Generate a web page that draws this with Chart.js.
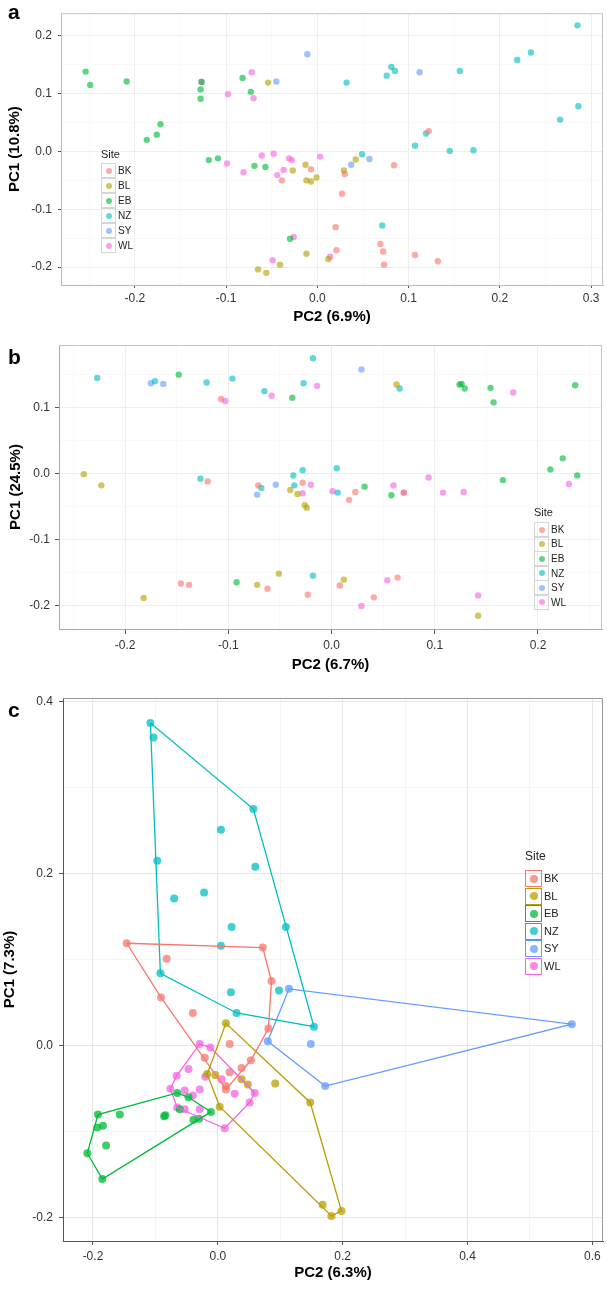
<!DOCTYPE html>
<html>
<head>
<meta charset="utf-8">
<script src="https://cdn.jsdelivr.net/npm/chart.js@4.4.0/dist/chart.umd.min.js"></script>
<style>
  body { margin: 0; background: #fff; font-family: "Liberation Sans", Arial, sans-serif; }
  #page { position: relative; width: 607px; height: 1292px; overflow: hidden; }
  canvas { position: absolute; left: 0; }
  .letter { position: absolute; left: 8px; font-size: 21px; font-weight: bold; line-height: 21px; }
  .legend { position: absolute; color: #222; }
  .legend .ttl { font-size: 11px; line-height: 12px; margin-bottom: 2px; }
  .legend .row { position: relative; }
  .legend .key { position: absolute; left: 0; top: 0; box-sizing: border-box; }
  .legend .dot { position: absolute; border-radius: 50%; }
  .legend .lab { position: absolute; white-space: nowrap; }
</style>
</head>
<body>
<div id="page">
  <canvas id="pa" width="607" height="330" style="top:0px"></canvas>
  <canvas id="pb" width="607" height="348" style="top:330px"></canvas>
  <canvas id="pc" width="607" height="608" style="top:678px"></canvas>
  <div class="letter" style="top:1px">a</div>
  <div class="letter" style="top:346px">b</div>
  <div class="letter" style="top:699px">c</div>
</div>
<script>
const sites = ['BK', 'BL', 'EB', 'NZ', 'SY', 'WL'];
const siteColors = ['248,118,109', '183,159,0', '0,186,56', '0,191,196', '97,156,255', '245,100,227'];

// panel a: [PC2, PC1]
const aBK = [[0.122,0.035],[-0.039,-0.050],[-0.007,-0.031],[0.030,-0.039],[0.084,-0.024],[0.027,-0.073],[0.020,-0.131],[0.069,-0.160],[0.072,-0.173],[0.073,-0.196],[0.107,-0.179],[0.132,-0.190],[0.021,-0.171]];
const aBL = [[-0.054,0.119],[-0.027,-0.033],[-0.013,-0.023],[-0.012,-0.050],[-0.007,-0.052],[-0.001,-0.045],[0.042,-0.014],[0.029,-0.033],[-0.012,-0.177],[-0.041,-0.196],[-0.065,-0.204],[-0.056,-0.210],[0.012,-0.186]];
const aEB = [[-0.254,0.138],[-0.249,0.115],[-0.209,0.121],[-0.127,0.120],[-0.128,0.107],[-0.128,0.091],[-0.082,0.127],[-0.073,0.103],[-0.172,0.047],[-0.176,0.029],[-0.187,0.020],[-0.119,-0.015],[-0.109,-0.012],[-0.069,-0.025],[-0.057,-0.027],[-0.030,-0.151]];
const aNZ = [[0.285,0.218],[0.234,0.171],[0.219,0.158],[0.081,0.146],[0.085,0.139],[0.076,0.131],[0.156,0.139],[0.032,0.119],[0.286,0.078],[0.266,0.055],[0.119,0.031],[0.107,0.010],[0.145,0.001],[0.171,0.002],[0.049,-0.005],[0.071,-0.128]];
const aSY = [[-0.045,0.121],[-0.011,0.168],[0.112,0.137],[0.057,-0.013],[0.037,-0.023]];
const aWL = [[-0.127,0.120],[-0.098,0.099],[-0.072,0.137],[-0.070,0.092],[-0.099,-0.021],[-0.081,-0.036],[-0.061,-0.007],[-0.048,-0.004],[-0.044,-0.041],[-0.037,-0.032],[-0.031,-0.012],[-0.028,-0.015],[0.003,-0.009],[-0.026,-0.148],[-0.049,-0.188],[0.014,-0.182]];

// panel b
const bBK = [[-0.107,0.113],[-0.120,-0.012],[-0.071,-0.018],[-0.028,-0.014],[0.017,-0.040],[0.023,-0.028],[0.070,-0.029],[-0.146,-0.167],[-0.138,-0.169],[-0.062,-0.175],[-0.023,-0.184],[0.008,-0.170],[0.041,-0.188],[0.064,-0.158]];
const bBL = [[0.063,0.135],[-0.240,-0.001],[-0.223,-0.018],[-0.040,-0.025],[-0.033,-0.031],[-0.026,-0.048],[-0.024,-0.052],[-0.182,-0.189],[-0.072,-0.169],[-0.051,-0.152],[0.012,-0.161],[0.142,-0.216]];
const bEB = [[-0.148,0.150],[-0.038,0.115],[0.124,0.135],[0.126,0.136],[0.129,0.129],[0.154,0.130],[0.157,0.108],[0.236,0.134],[0.032,-0.020],[0.058,-0.033],[0.166,-0.010],[0.212,0.006],[0.224,0.023],[0.238,-0.003],[-0.092,-0.165]];
const bNZ = [[-0.227,0.145],[-0.171,0.140],[-0.121,0.138],[-0.096,0.144],[-0.065,0.125],[-0.027,0.137],[-0.018,0.175],[0.066,0.129],[-0.127,-0.008],[-0.068,-0.022],[-0.037,-0.003],[-0.036,-0.018],[-0.028,0.005],[0.005,0.008],[0.006,-0.029],[-0.018,-0.155]];
const bSY = [[-0.175,0.137],[-0.163,0.136],[0.029,0.158],[-0.072,-0.032],[-0.054,-0.017]];
const bWL = [[-0.103,0.110],[-0.058,0.118],[-0.014,0.133],[0.176,0.123],[-0.028,-0.030],[-0.020,-0.017],[0.001,-0.027],[0.060,-0.018],[0.070,-0.029],[0.094,-0.006],[0.108,-0.029],[0.128,-0.028],[0.230,-0.016],[0.029,-0.201],[0.054,-0.162],[0.142,-0.185]];

// panel c
const cBK = [[-0.146,0.119],[0.072,0.114],[-0.082,0.101],[0.086,0.075],[-0.091,0.056],[-0.040,0.038],[0.081,0.020],[0.019,0.002],[-0.021,-0.014],[0.053,-0.017],[0.019,-0.031],[0.038,-0.026],[0.013,-0.047],[0.013,-0.051]];
const cBL = [[0.013,0.026],[-0.017,-0.033],[-0.004,-0.034],[0.038,-0.039],[0.048,-0.045],[0.092,-0.044],[0.148,-0.066],[0.003,-0.071],[0.168,-0.185],[0.182,-0.198],[0.198,-0.192]];
const cEB = [[-0.065,-0.055],[-0.047,-0.060],[-0.061,-0.074],[-0.086,-0.082],[-0.084,-0.081],[-0.039,-0.086],[-0.030,-0.085],[-0.011,-0.077],[-0.157,-0.080],[-0.192,-0.080],[-0.193,-0.095],[-0.184,-0.093],[-0.179,-0.116],[-0.209,-0.125],[-0.185,-0.155]];
const cNZ = [[-0.108,0.375],[-0.103,0.358],[0.057,0.275],[0.005,0.251],[-0.097,0.215],[0.060,0.208],[-0.070,0.171],[-0.022,0.178],[0.022,0.138],[0.109,0.138],[0.005,0.116],[-0.092,0.084],[0.021,0.062],[0.030,0.038],[0.098,0.064],[0.154,0.022]];
const cSY = [[0.114,0.066],[0.080,0.005],[0.149,0.002],[0.172,-0.047],[0.567,0.025]];
const cWL = [[-0.029,0.002],[-0.012,-0.002],[-0.047,-0.027],[-0.066,-0.035],[-0.020,-0.036],[0.006,-0.039],[-0.076,-0.050],[-0.053,-0.052],[-0.029,-0.051],[-0.040,-0.058],[0.027,-0.056],[0.059,-0.055],[0.051,-0.066],[-0.065,-0.072],[-0.053,-0.074],[-0.029,-0.074],[0.011,-0.096]];

const panelA = [aBK, aBL, aEB, aNZ, aSY, aWL];
const panelB = [bBK, bBL, bEB, bNZ, bSY, bWL];
const panelC = [cBK, cBL, cEB, cNZ, cSY, cWL];

const FONT = '"Liberation Sans", Arial, sans-serif';

const toXY = pts => pts.map(p => ({x: p[0], y: p[1]}));

// convex hull, like ggplot chull
function hull(pts) {
  const p = pts.slice().sort((a, b) => a[0] - b[0] || a[1] - b[1]);
  const cross = (o, a, b) => (a[0] - o[0]) * (b[1] - o[1]) - (a[1] - o[1]) * (b[0] - o[0]);
  const lower = [], upper = [];
  p.forEach(q => {
    while (lower.length >= 2 && cross(lower[lower.length - 2], lower[lower.length - 1], q) <= 0) lower.pop();
    lower.push(q);
  });
  p.slice().reverse().forEach(q => {
    while (upper.length >= 2 && cross(upper[upper.length - 2], upper[upper.length - 1], q) <= 0) upper.pop();
    upper.push(q);
  });
  const h = lower.slice(0, -1).concat(upper.slice(0, -1));
  h.push(h[0]);
  return h;
}

const isMajor = (v, m) => Math.abs(v / m - Math.round(v / m)) < 1e-6;
const fmt = v => Math.abs(v) < 1e-9 ? '0.0' : v.toFixed(1);

const framePlugin = {
  id: 'frame',
  afterDraw(chart, args, opts) {
    const {ctx, chartArea: a} = chart;
    ctx.save();
    ctx.strokeStyle = opts.color;
    ctx.lineWidth = 1;
    ctx.beginPath();
    ctx.moveTo(a.left, a.top + 0.5);
    ctx.lineTo(a.right - 0.5, a.top + 0.5);
    ctx.lineTo(a.right - 0.5, a.bottom);
    ctx.stroke();
    ctx.restore();
  }
};

function axis(o) {
  return {
    type: 'linear',
    min: o.min,
    max: o.max,
    afterFit: s => { if (s.isHorizontal()) s.height = o.size; else s.width = o.size; },
    ticks: {
      stepSize: o.step,
      includeBounds: false,
      autoSkip: false,
      maxRotation: 0,
      padding: o.pad,
      color: '#333',
      font: {family: FONT, size: 12},
      callback: v => isMajor(v, o.major) ? fmt(v) : ''
    },
    grid: {
      color: c => c.tick && isMajor(c.tick.value, o.major) ? o.grid : o.minor,
      lineWidth: c => c.tick && isMajor(c.tick.value, o.major) ? 1 : 0.7,
      tickLength: o.tl,
      tickColor: c => c.tick && isMajor(c.tick.value, o.major) ? '#555' : 'rgba(0,0,0,0)'
    },
    border: {color: o.axis, width: 1},
    title: {
      display: true,
      text: o.title,
      color: '#000',
      font: {family: FONT, size: 15, weight: 'bold'},
      padding: o.tpad
    }
  };
}

function makeChart(id, groups, o) {
  const datasets = [];
  if (o.hulls) {
    groups.forEach((g, i) => {
      datasets.push({
        type: 'scatter',
        data: toXY(hull(g)),
        showLine: true,
        borderColor: 'rgb(' + siteColors[i] + ')',
        borderWidth: 1.3,
        pointRadius: 0,
        fill: false,
        tension: 0
      });
    });
  }
  groups.forEach((g, i) => {
    datasets.push({
      type: 'scatter',
      label: sites[i],
      data: toXY(g),
      backgroundColor: 'rgba(' + siteColors[i] + ',' + o.alpha + ')',
      pointBackgroundColor: 'rgba(' + siteColors[i] + ',' + o.alpha + ')',
      borderWidth: 0,
      pointBorderWidth: 0,
      pointRadius: o.r
    });
  });
  return new Chart(document.getElementById(id), {
    type: 'scatter',
    data: {datasets},
    options: {
      responsive: false,
      animation: false,
      devicePixelRatio: 1,
      layout: {padding: o.padding},
      plugins: {legend: {display: false}, tooltip: {enabled: false}, frame: {color: o.frame}},
      scales: {x: o.x, y: o.y}
    },
    plugins: [framePlugin]
  });
}

makeChart('pa', panelA, {
  alpha: 0.62, r: 3.2, frame: '#c4c4c4',
  padding: {top: 1, right: 3, left: 0, bottom: 0},
  x: axis({min: -0.281, max: 0.313, step: 0.05, major: 0.1, size: 45, pad: 3, tl: 3,
    grid: '#eeeeee', minor: '#f6f6f6', axis: '#bdbdbd', title: 'PC2 (6.9%)', tpad: {top: 4, bottom: 4}}),
  y: axis({min: -0.231, max: 0.239, step: 0.05, major: 0.1, size: 61, pad: 6, tl: 3,
    grid: '#eeeeee', minor: '#f6f6f6', axis: '#bdbdbd', title: 'PC1 (10.8%)', tpad: {top: 6, bottom: 4}})
});

makeChart('pb', panelB, {
  alpha: 0.62, r: 3.2, frame: '#c4c4c4',
  padding: {top: 15, right: 5, left: 0, bottom: 0},
  x: axis({min: -0.264, max: 0.262, step: 0.05, major: 0.1, size: 49, pad: 4, tl: 5,
    grid: '#eeeeee', minor: '#f6f6f6', axis: '#a8a8a8', title: 'PC2 (6.7%)', tpad: {top: 4, bottom: 4}}),
  y: axis({min: -0.236, max: 0.195, step: 0.05, major: 0.1, size: 59, pad: 5, tl: 4,
    grid: '#eeeeee', minor: '#f6f6f6', axis: '#a8a8a8', title: 'PC1 (24.5%)', tpad: {top: 7, bottom: 4}})
});

makeChart('pc', panelC, {
  alpha: 0.75, r: 4, frame: '#9a9a9a', hulls: true,
  padding: {top: 20, right: 4, left: 0, bottom: 0},
  x: axis({min: -0.248, max: 0.617, step: 0.1, major: 0.2, size: 45, pad: 4, tl: 4,
    grid: '#e6e6e6', minor: '#f1f1f1', axis: '#555', title: 'PC2 (6.3%)', tpad: {top: 4, bottom: 4}}),
  y: axis({min: -0.227, max: 0.404, step: 0.1, major: 0.2, size: 63, pad: 6, tl: 4,
    grid: '#e6e6e6', minor: '#f1f1f1', axis: '#555', title: 'PC1 (7.3%)', tpad: {top: 1, bottom: 4}})
});

// legends (html text)
function legend(o) {
  const box = document.createElement('div');
  box.className = 'legend';
  box.style.left = o.left + 'px';
  box.style.top = o.top + 'px';
  const t = document.createElement('div');
  t.className = 'ttl';
  t.style.fontSize = o.titleSize + 'px';
  t.style.height = o.titleH + 'px';
  t.textContent = 'Site';
  box.appendChild(t);
  sites.forEach((s, i) => {
    const row = document.createElement('div');
    row.className = 'row';
    row.style.height = o.step + 'px';
    const key = document.createElement('div');
    key.className = 'key';
    key.style.width = o.key + 'px';
    key.style.height = o.key + 'px';
    key.style.border = '1px solid ' + (o.colored ? 'rgb(' + siteColors[i] + ')' : '#d6d6d6');
    const dot = document.createElement('div');
    dot.className = 'dot';
    const d = o.dot;
    dot.style.width = d + 'px';
    dot.style.height = d + 'px';
    dot.style.left = ((o.key - 2 - d) / 2) + 'px';
    dot.style.top = ((o.key - 2 - d) / 2) + 'px';
    dot.style.background = 'rgba(' + siteColors[i] + ',' + o.alpha + ')';
    key.appendChild(dot);
    const lab = document.createElement('div');
    lab.className = 'lab';
    lab.style.left = (o.key + 2) + 'px';
    lab.style.top = ((o.key - o.font * 1.15) / 2) + 'px';
    lab.style.fontSize = o.font + 'px';
    lab.textContent = s;
    row.appendChild(key);
    row.appendChild(lab);
    box.appendChild(row);
  });
  document.getElementById('page').appendChild(box);
}

legend({left: 101, top: 148, titleSize: 11, titleH: 13, step: 15, key: 15, dot: 6, font: 10, alpha: 0.62, colored: false});
legend({left: 534, top: 506, titleSize: 11, titleH: 14, step: 14.6, key: 15, dot: 6, font: 10, alpha: 0.62, colored: false});
legend({left: 525, top: 850, titleSize: 12, titleH: 18, step: 17.5, key: 17, dot: 8, font: 11, alpha: 0.75, colored: true});
</script>
</body>
</html>
